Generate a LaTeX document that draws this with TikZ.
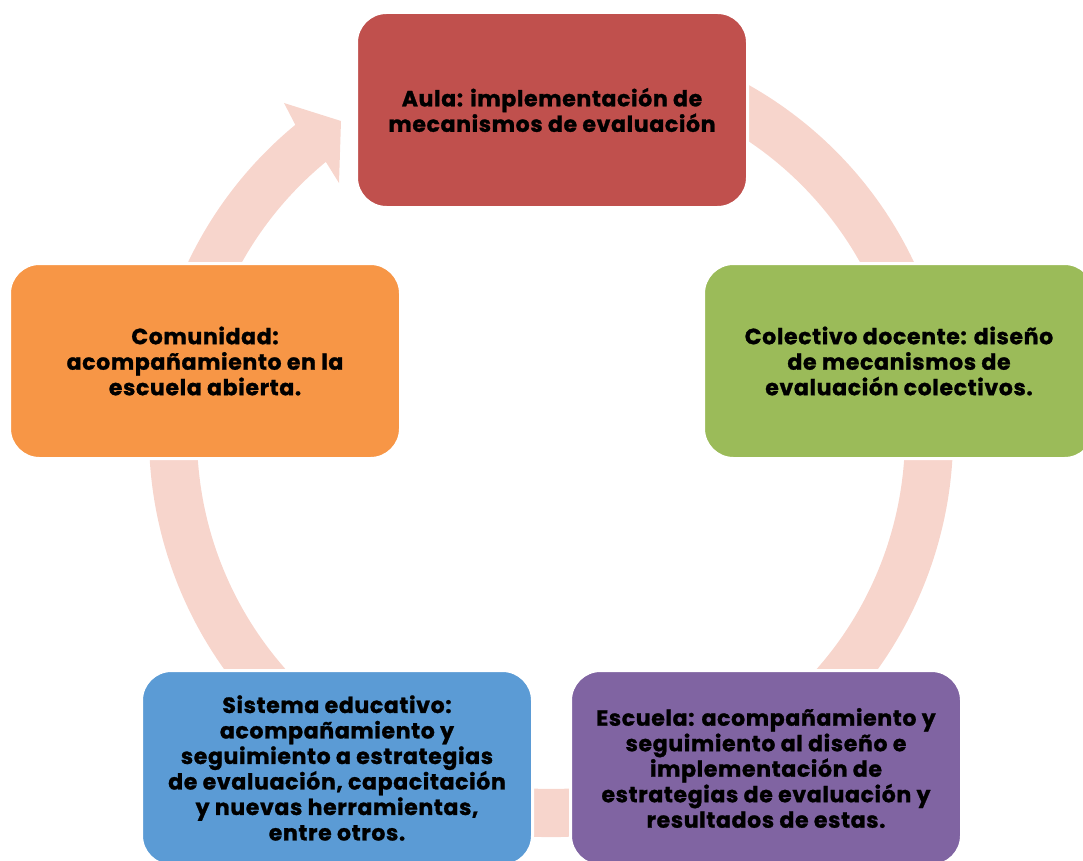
\documentclass[tikz,border=0pt]{standalone}
\usepackage{fontspec}
\newfontfamily\boxfont{Poppins}[LetterSpace=3,FakeBold=1.2]
\definecolor{ringc}{HTML}{F7D5CC}
\definecolor{aulac}{HTML}{C0504D}
\definecolor{colec}{HTML}{9BBB59}
\definecolor{escc}{HTML}{8064A2}
\definecolor{sisc}{HTML}{5B9BD5}
\definecolor{comc}{HTML}{F79646}
\tikzset{
  cyclebox/.style={draw=white, line width=3pt, rounded corners=30pt,
    minimum width=391pt, minimum height=195pt, align=center,
    text=black, font=\boxfont\bfseries\fontsize{22}{25.5}\selectfont, inner sep=0pt}
}
\begin{document}
\begin{tikzpicture}[x=1pt,y=1pt]
\useasboundingbox (0,0) rectangle (1083,-861);
\clip (0,0) rectangle (1083,-861);
% ring with arrowhead
\begin{scope}[shift={(551,-435)}]
\fill[ringc] (110:402pt) arc[start angle=110, end angle=-230.5, radius=402pt]
  -- (-267,332) -- (-210,314) -- (-212,252)
  -- (-230.5:354pt) arc[start angle=-230.5, end angle=110, radius=354pt] -- cycle;
\end{scope}
% boxes
\node[cyclebox, fill=aulac] (aula) at (552,-110)
  {Aula: implementación de\\mecanismos de evaluación};
\node[cyclebox, fill=colec] (colectivo) at (899,-361)
  {Colectivo docente: diseño\\de mecanismos de\\evaluación colectivos.};
\node[cyclebox, fill=escc] (escuela) at (766,-768)
  {Escuela: acompañamiento y\\seguimiento al diseño e\\implementación de\\estrategias de evaluación y\\resultados de estas.};
\node[cyclebox, fill=sisc] (sistema) at (337,-768)
  {Sistema educativo:\\acompañamiento y\\seguimiento a estrategias\\de evaluación, capacitación\\y nuevas herramientas,\\entre otros.};
\node[cyclebox, fill=comc] (comunidad) at (205,-361)
  {Comunidad:\\acompañamiento en la\\escuela abierta.};
\end{tikzpicture}
\end{document}
